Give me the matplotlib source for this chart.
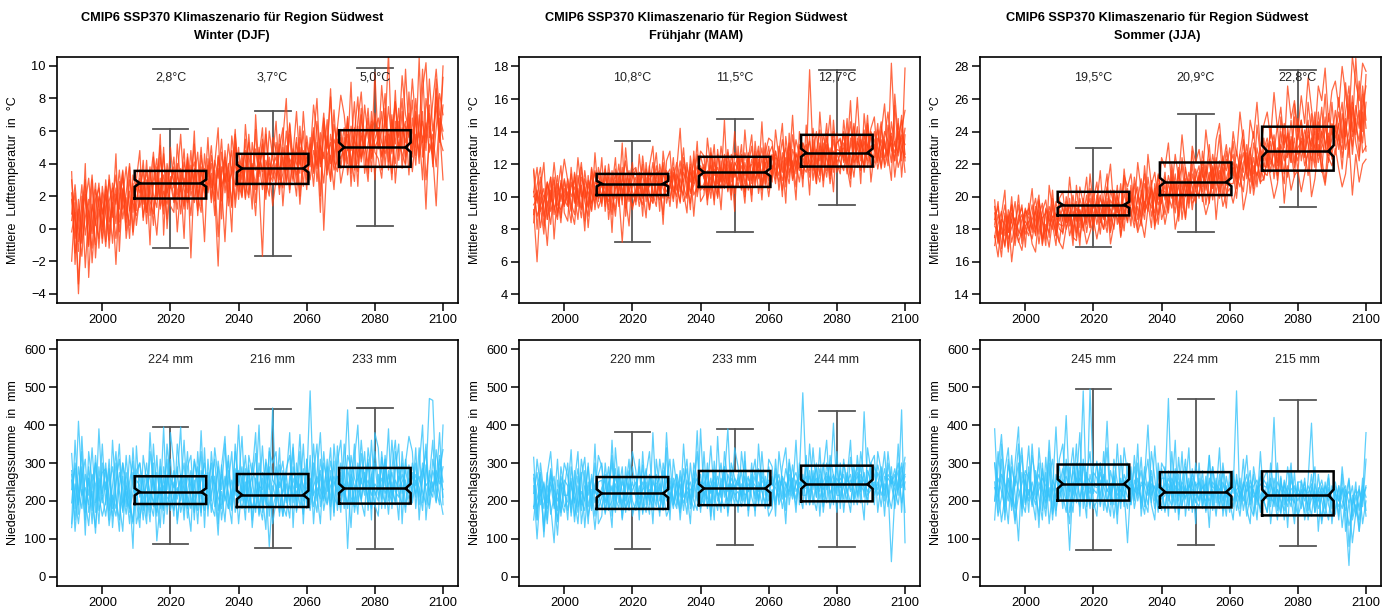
import matplotlib
matplotlib.use('Agg')
import matplotlib.pyplot as plt
import numpy as np

plt.rcParams['font.family'] = ['Liberation Sans', 'DejaVu Sans']

title = 'CMIP6 SSP370 Klimaszenario für Region Südwest'
seasons = ['Winter (DJF)', 'Frühjahr (MAM)', 'Sommer (JJA)']
start_year = 1991
box_centers = [2020, 2050, 2080]
xticks = [2000, 2020, 2040, 2060, 2080, 2100]

# model runs 1991-2100, temperature in tenths of a degree, one string per run
temp_djf = [
    "5 22 -8 14 30 3 -12 18 25 9  21 -3 28 15 36 12 19 -6 33 24  31 15 42 8 27 38 19 46 22 30  35 18 26 49 12 33 41 20 28 37  24 45 30 -5 38 29 52 34 18 41  30 55 27 40 16 46 35 62 28 39  44 21 50 36 58 31 47 15 42 53  38 60 29 49 71 36 45 24 55 48  62 33 51 78 40 57 46 29 64 50  55 72 38 61 47 85 42 58 66 33  68 50 105 44 59 76 38 62 83 70",
    "18 -15 6 27 -4 12 33 2 19 -9  14 30 7 25 -2 20 38 11 17 29  22 36 12 28 47 18 31 9 40 25  44 21 33 14 38 27 52 19 35 23  39 16 42 31 55 22 37 48 13 34  46 28 19 53 36 41 24 58 33 45  31 49 62 27 43 38 56 20 47 40  52 35 66 44 28 57 40 73 39 50  45 69 37 58 81 43 54 62 35 71  49 60 83 41 67 52 74 37 63 56  79 45 61 98 53 71 40 86 58 93",
    "-2 10 -40 8 21 -11 15 4 -6 26  9 -7 19 33 4 24 -1 30 16 8  17 29 3 35 21 13 44 27 6 32  19 31 58 24 16 39 28 11 45 30  27 40 21 -23 35 44 19 38 26 50  22 37 45 30 61 26 -17 42 34 29  40 33 25 51 37 46 28 63 35 44  30 48 39 59 -1 45 53 36 42 61  38 50 44 29 63 41 55 34 72 47  43 31 57 49 70 28 53 46 39 64  35 58 47 72 30 52 45 14 63 30",
    "30 6 -14 20 -24 11 -3 24 13 1  26 15 -9 21 12 35 8 23 -4 18  28 7 21 38 15 -4 24 33 19 50  25 40 9 31 22 48 16 36 27 -8  43 25 36 18 47 28 40 13 54 32  35 48 21 39 27 50 33 18 44 31  53 36 44 29 65 42 33 50 26 57  41 55 80 38 47 33 58 44 62 37  56 40 63 47 35 59 50 68 43 55  62 45 51 75 54 40 66 49 98 58  52 68 44 57 12 63 49 81 55 48",
    "9 27 1 -17 15 31 6 -10 20 12  -11 17 25 3 29 6 22 40 10 27  13 24 35 17 9 29 51 14 26 37  29 12 37 26 43 20 31 47 14 36  32 51 24 37 17 42 29 34 61 23  43 19 38 27 49 32 55 26 40 36  27 58 38 45 22 49 40 34 72 43  48 26 53 40 59 49 81 42 35 56  42 65 48 57 26 70 52 40 59 68  58 44 69 36 60 78 47 62 53 71  44 80 56 66 48 92 60 75 53 100",
    "22 -6 12 -9 7 18 -21 9 28 -1  30 4 13 -6 18 31 14 2 26 11  36 20 10 26 30 43 12 23 15 28  16 34 23 41 29 8 37 25 50 19  36 30 17 45 26 34 14 57 39 28  19 41 53 35 24 38 47 30 20 56  48 25 34 60 41 29 53 39 48 33  45 62 37 51 43 67 29 55 48 43  51 58 34 62 49 44 76 56 48 60  68 53 46 58 34 62 57 80 44 52  61 39 70 53 65 47 58 38 68 55",
    "35 -22 18 -5 40 -30 10 28 -12 22  -8 33 10 46 -14 25 4 38 -2 30  48 5 30 -10 44 20 58 -4 36 14  10 52 28 -6 46 24 60 8 38 22  56 18 40 62 6 48 28 -2 58 36  20 64 38 12 70 34 52 26 60 44  66 30 56 80 24 46 72 40 60 30  44 76 58 20 68 50 86 38 62 82  70 48 90 36 66 84 52 74 44 96  50 88 62 108 46 78 56 94 70 60  92 64 40 86 102 56 78 98 70 60",
    "-20 16 -34 5 26 -10 30 -18 12 -6  24 -12 16 -22 20 36 -6 12 28 2  20 42 10 26 2 34 14 50 0 28  38 -2 26 12 44 -18 34 20 10 46  22 34 8 44 26 -8 36 14 50 18  40 18 58 30 8 44 62 22 38 14  30 52 14 42 64 36 20 56 46 24  56 34 48 10 66 42 30 64 52 28  40 68 26 56 44 74 34 52 66 30  62 36 74 52 30 66 48 72 40 84  46 72 58 30 80 66 44 92 54 76",
]
temp_mam = [
    "117 96 104 88 101 112 92 99 108 95  103 91 114 98 107 85 110 102 96 118  108 99 115 93 104 120 101 111 97 106  112 100 95 117 106 121 103 98 114 109  105 118 110 96 124 113 102 116 108 119  111 125 104 117 108 131 115 106 120 112  122 109 127 116 101 124 118 130 112 121  126 113 120 135 117 108 129 122 116 133  120 178 125 112 131 119 136 124 128 115  131 124 139 117 128 143 122 134 126 137  128 141 124 135 119 146 131 127 138 132",
    "92 60 99 105 86 97 110 90 102 94  108 96 89 113 100 106 94 117 98 103  96 112 104 89 110 101 72 107 116 99  104 115 101 110 92 107 119 104 99 113  117 103 109 122 106 99 115 110 126 104  108 116 99 121 113 105 123 110 117 102  113 126 108 119 131 110 116 104 125 118  119 108 131 115 124 112 138 121 109 127  132 118 126 140 114 129 123 117 135 121  126 139 120 131 145 118 133 127 122 140  135 122 143 130 126 182 137 125 141 153",
    "100 103 81 96 108 91 99 113 87 105  95 109 101 86 112 104 93 107 115 97  113 94 108 101 92 114 105 98 111 103  97 108 113 102 119 96 110 106 89 116  110 97 114 106 101 118 109 123 100 113  120 107 112 98 126 114 109 122 104 117  106 119 113 124 108 128 102 115 121 110  125 117 109 123 130 115 122 106 128 119  115 127 121 108 133 124 112 130 119 126  121 116 130 125 112 134 128 119 145 124  140 129 118 134 125 137 122 145 130 124",
    "95 99 112 82 94 104 89 108 97 111  99 114 97 105 93 116 100 91 109 106  101 107 92 116 99 104 118 93 108 115  108 94 106 112 101 99 113 116 105 100  99 111 121 103 115 108 96 111 119 107  104 113 119 108 100 118 111 127 109 121  117 104 121 110 123 114 128 109 118 131  112 128 118 110 121 133 115 126 120 111  124 112 135 120 127 110 132 121 140 118  117 133 125 111 136 123 129 141 118 131  132 117 128 140 134 121 156 129 136 115",
    "103 88 95 101 97 83 106 95 92 100  111 100 106 94 118 99 105 113 92 110  94 117 100 107 113 96 110 122 103 112  117 105 120 97 111 114 100 109 121 107  113 106 100 117 109 121 103 107 114 125  116 101 127 113 118 109 120 103 126 114  110 123 117 104 115 121 111 124 107 126  131 120 113 127 109 124 117 135 125 114  127 134 116 129 122 138 127 108 124 133  135 121 128 146 124 129 137 115 132 127  124 136 131 120 144 128 134 118 127 142",
    "89 104 91 97 109 100 94 86 110 98  94 106 110 100 87 111 103 96 102 113  106 102 97 112 105 109 98 114 101 94  101 111 99 106 115 102 94 120 108 103  108 114 104 111 97 102 120 101 106 116  112 98 108 124 103 113 105 116 98 127  125 111 103 118 120 106 123 113 133 105  116 124 122 104 118 127 110 119 132 122  118 122 130 117 109 126 145 113 121 129  128 130 114 136 121 125 116 138 129 120  118 127 135 124 129 133 127 140 122 179",
    "116 80 105 121 86 112 74 103 119 90  85 118 96 124 104 79 113 92 127 101  124 91 112 78 117 101 133 88 109 121  95 126 104 87 119 131 98 114 83 122  128 99 117 142 103 90 125 108 134 97  101 136 118 95 129 109 147 104 121 91  131 105 141 116 97 134 112 146 108 125  109 141 123 100 137 119 150 114 131 106  144 116 131 108 152 124 139 111 147 120  114 147 128 159 119 136 108 151 130 142  149 121 139 157 126 110 163 135 147 126",
    "84 107 118 93 70 101 112 88 106 123  110 92 83 107 121 97 88 118 104 93  100 119 86 105 124 94 113 99 82 116  118 98 125 106 92 112 127 101 119 96  106 124 93 113 130 101 118 88 114 128  125 103 115 132 99 122 107 129 112 140  115 132 100 123 138 109 121 98 127 136  134 111 127 145 106 131 120 98 140 124  119 137 110 128 141 106 129 150 115 133  136 122 148 113 131 161 126 118 144 109  128 145 117 136 152 131 122 148 112 138",
    "103 118 94 77 109 97 121 100 84 110  97 84 115 100 92 108 81 104 116 99  109 97 120 103 88 112 95 130 106 92  104 113 88 121 100 96 115 91 128 110  94 115 106 97 120 111 92 128 103 117  118 95 130 107 114 92 126 116 101 119  124 113 96 127 110 120 131 106 115 100  117 128 104 122 96 139 111 127 118 133  128 101 142 123 113 133 116 126 103 139  125 140 118 106 143 121 135 127 150 118  121 133 146 118 127 139 112 131 150 122",
]
temp_jja = [
    "190 172 184 195 178 186 170 188 193 181  176 189 199 183 174 192 186 180 197 185  194 180 188 201 185 192 179 196 187 203  188 199 193 182 204 195 190 208 186 199  203 190 198 211 194 206 188 200 213 197  207 195 212 201 216 199 209 193 214 205  210 222 204 215 198 219 211 225 207 217  221 209 226 215 232 213 224 206 229 218  228 215 234 221 240 226 212 237 229 222  236 224 242 229 218 246 233 227 251 238  244 229 251 237 262 240 285 249 233 258",
    "175 189 181 169 192 184 197 176 186 191  187 180 194 177 191 198 182 188 176 193  185 197 182 191 178 199 190 183 205 188  197 184 191 206 189 180 200 193 211 190  195 208 186 200 214 193 205 199 189 210  198 213 204 190 210 219 200 215 206 196  215 206 220 209 226 213 203 221 216 230  213 228 217 235 211 226 240 219 230 222  233 220 227 244 216 238 231 221 249 226  228 241 232 222 247 235 255 230 239 226  239 252 236 270 245 231 256 242 268 247",
    "182 178 163 188 174 181 187 172 179 185  181 174 186 192 171 183 178 195 184 172  189 193 176 185 197 181 195 178 192 186  192 177 198 188 185 202 183 194 179 205  188 199 206 185 197 191 210 184 202 196  212 201 193 209 185 204 211 198 220 203  201 214 209 196 217 207 222 200 211 219  226 205 218 227 214 209 233 221 212 236  219 241 229 213 232 245 224 235 218 230  234 219 228 251 226 239 215 244 231 258  231 245 224 238 257 226 249 271 240 275",
    "186 194 177 180 189 172 183 195 171 188  193 183 177 197 185 179 194 187 190 180  178 187 195 180 190 175 188 201 181 197  183 194 186 197 178 190 187 181 196 184  207 185 194 182 208 200 193 205 183 204  203 190 216 198 207 193 218 205 199 212  219 197 212 223 205 216 199 213 228 208  208 220 211 203 225 217 205 230 219 210  224 234 211 227 221 208 243 225 236 215  241 228 213 236 230 243 224 209 237 223  226 238 217 246 229 255 233 222 252 228",
    "170 183 191 176 185 195 179 184 189 177  184 195 180 188 196 174 191 183 170 198  192 184 199 176 193 187 181 192 199 179  201 189 180 195 192 187 207 175 190 198  192 181 201 196 186 212 197 190 208 186  194 208 199 214 193 210 186 207 201 217  206 218 195 210 219 202 216 208 193 222  215 199 222 210 219 228 214 225 208 229  236 223 218 230 227 214 239 228 212 248  222 235 247 216 240 221 231 249 225 236  253 235 229 248 224 258 244 234 263 242",
    "194 176 186 183 168 190 185 179 176 193  179 186 191 171 187 190 175 199 187 183  182 190 185 196 188 170 199 187 194 183  193 201 188 178 198 193 196 186 202 193  199 194 180 204 191 197 181 208 195 201  189 200 207 195 218 186 203 210 192 208  212 203 217 199 210 224 208 218 202 214  218 213 206 221 227 202 219 213 224 215  213 228 238 219 232 222 226 247 221 237  247 226 238 231 252 225 240 234 221 244  236 244 258 229 240 262 238 253 227 231",
    "198 171 189 204 166 195 180 201 175 192  189 205 176 198 184 170 207 192 181 199  203 184 212 191 175 206 196 184 214 193  196 216 187 205 220 192 201 183 213 206  214 193 221 204 190 226 207 215 198 224  218 233 205 226 211 238 216 202 231 221  229 212 241 223 208 235 245 220 232 214  240 225 252 233 217 247 236 258 229 244  252 236 264 241 255 230 268 248 259 240  262 245 273 254 238 268 259 279 246 265  271 255 280 263 248 286 270 259 282 277",
    "176 163 184 170 188 160 179 173 167 182  185 171 166 190 174 180 169 186 178 172  168 181 190 175 173 192 183 171 178 186  174 186 180 199 171 183 196 176 192 185  201 190 178 186 175 193 204 182 189 198  183 195 207 180 191 202 187 211 196 199  213 200 189 197 218 186 209 194 202 205  196 207 219 192 203 224 201 215 209 211  224 211 199 208 228 196 219 204 213 216  203 214 228 200 211 232 217 207 224 219  230 217 206 214 235 201 226 209 220 223",
    "183 197 168 190 178 200 174 186 195 169  196 178 190 201 170 193 185 204 176 191  177 200 189 170 207 185 196 212 181 198  209 186 199 214 179 204 192 186 217 197  182 212 200 188 219 196 206 180 214 201  215 192 220 203 188 224 208 196 228 210  199 228 212 232 205 219 238 207 223 214  234 211 227 241 216 230 207 244 225 219  218 243 229 210 249 232 238 221 257 235  247 225 258 239 221 252 236 263 229 245  240 261 233 252 268 237 248 225 256 268",
]

# model runs 1991-2100, seasonal precipitation in mm
prec_djf = [
    "325 180 410 245 150 290 205 130 260 215  300 175 240 330 195 120 275 225 75 345  210 265 160 380 230 185 290 140 245 310  195 260 395 175 225 280 150 330 205 240  275 190 160 305 230 350 180 255 215 400  210 285 170 240 325 195 150 270 230 445  185 260 305 210 155 290 235 375 200 250  490 220 170 310 245 195 280 160 345 230  265 440 210 185 300 245 330 175 270 225  200 315 250 165 285 360 220 190 310 245  275 210 340 195 260 470 465 230 190 400",
    "230 285 165 370 200 135 250 300 175 215  160 240 290 205 150 265 185 320 240 195  270 175 225 145 300 95 195 395 165 260  235 290 170 215 330 190 255 140 280 220  200 250 310 175 225 145 280 205 330 240  290 180 235 265 170 300 215 125 340 255  240 170 230 285 320 195 255 220 165 310  205 270 350 185 240 290 200 305 175 260  180 285 230 350 195 260 215 300 240 185  270 205 290 230 195 330 250 300 185 260  225 300 190 255 350 215 280 240 320 210",
    "130 245 195 260 310 170 225 115 290 195  250 135 215 180 275 230 165 250 305 140  185 225 300 200 160 275 215 240 185 230  280 150 240 300 180 260 215 175 385 195  235 300 185 225 270 200 245 330 170 220  180 230 295 150 260 215 345 200 185 270  275 215 160 245 200 340 175 230 285 195  250 185 235 205 330 225 265 210 190 300  220 195 270 240 165 325 250 205 360 215  235 290 180 270 225 200 265 240 170 295  195 255 235 175 295 230 210 335 260 230",
    "280 210 140 230 190 260 175 320 215 160  200 270 180 300 225 175 240 195 145 255  240 150 270 220 200 170 260 220 310 175  215 235 200 265 155 225 305 245 170 270  180 220 265 140 295 215 180 225 260 195  235 320 210 185 215 250 190 225 290 180  220 295 190 160 265 240 200 275 240 225  175 240 265 230 205 255 185 250 220 200  290 75 255 195 280 200 265 235 180 300  215 240 310 200 250 190 290 220 255 205  240 270 210 300 225 180 250 195 285 335",
    "195 300 225 180 270 215 340 195 230 275  285 210 160 250 310 195 225 140 275 230  155 205 245 265 185 320 180 260 210 195  250 205 270 230 210 180 235 290 215 175  255 170 230 290 190 265 220 175 240 280  200 250 185 300 240 165 275 245 80 220  290 235 265 195 240 210 265 185 230 280  225 300 200 270 175 235 305 245 265 215  245 180 320 260 230 205 275 190 250 330  250 225 195 280 215 255 230 270 240 220  300 240 265 225 190 280 235 260 215 165",
    "255 150 290 215 235 190 270 245 140 300  230 285 200 160 240 300 210 180 220 265  300 240 185 210 255 200 235 175 270 215  175 225 255 190 265 240 195 225 255 300  215 265 245 210 180 240 305 190 285 205  265 195 255 220 180 240 230 300 160 240  205 250 220 270 190 260 220 245 210 235  260 215 245 280 220 190 240 265 225 275  210 250 190 230 260 285 230 255 215 245  230 260 220 245 275 225 210 250 280 235  265 220 250 285 240 255 225 280 245 290",
    "140 360 190 290 110 330 250 170 390 220  280 150 360 210 120 300 250 170 340 200  130 320 250 170 350 210 130 290 230 380  300 140 230 360 190 120 310 260 160 340  160 330 230 110 290 370 200 140 350 250  370 190 280 130 230 400 170 310 250 140  200 340 160 260 380 130 300 220 350 180  320 140 270 380 200 310 150 350 240 170  350 250 130 310 400 200 160 340 270 190  160 330 240 390 180 280 350 140 300 370  330 180 290 400 150 260 360 200 310 250",
    "270 120 230 330 170 260 140 300 200 350  190 310 130 240 350 170 320 210 140 280  300 200 140 330 250 160 310 180 350 240  160 350 260 150 290 320 170 240 330 130  310 200 340 260 150 230 320 180 270 140  240 150 320 270 380 160 260 190 330 300  330 160 280 200 250 350 170 330 140 310  190 350 220 140 300 250 340 170 300 360  200 320 290 170 230 360 250 310 150 380  340 180 320 210 360 240 150 330 230 190  210 340 150 270 330 190 310 250 380 190",
]
prec_mam = [
    "315 150 270 105 240 185 90 255 200 170  225 335 160 210 275 130 240 195 300 180  210 270 175 360 200 240 155 290 185 230  250 180 295 215 165 380 200 235 175 260  205 245 190 280 225 165 300 210 385 180  235 275 150 305 220 185 260 390 200 240  260 205 305 175 240 280 195 330 215 250  190 285 225 260 175 310 240 205 270 485  255 210 340 230 270 185 300 245 405 220  280 235 200 315 250 275 195 435 240 265  230 295 255 200 330 245 270 215 440 90",
    "220 275 190 250 150 285 215 175 265 230  175 240 205 140 260 315 185 230 160 250  255 165 230 300 210 180 265 200 245 175  190 240 210 170 270 225 185 310 240 200  260 190 225 245 175 255 215 175 240 270  190 230 345 215 175 260 225 200 280 215  225 185 240 265 210 175 250 225 195 290  240 270 190 220 285 240 205 255 220 180  300 240 265 210 285 240 195 320 265 215  215 300 250 270 205 240 290 210 260 300  270 215 240 285 220 180 255 300 235 265",
    "150 240 275 205 180 230 265 145 215 300  265 190 230 285 200 175 250 215 125 225  180 230 290 160 245 215 185 260 230 290  225 290 165 250 215 180 270 200 225 160  185 260 215 170 245 285 190 260 200 220  280 185 240 265 200 235 290 160 245 210  195 245 215 225 270 205 240 190 265 210  265 200 250 180 235 260 215 245 270 215  215 280 190 255 225 300 230 265 195 245  250 205 275 230 295 215 255 235 200 285  215 250 185 265 240 40 210 255 300 230",
    "240 100 230 180 275 165 210 110 245 185  200 260 145 240 190 280 160 205 245 270  300 195 215 240 170 270 225 180 205 250  210 175 235 285 190 250 225 170 280 230  240 205 180 265 210 230 250 200 175 390  210 250 195 235 265 210 180 245 225 260  240 275 200 245 230 265 200 255 235 180  210 245 270 205 250 215 295 225 245 260  245 190 260 285 205 250 275 220 245 260  235 270 220 255 230 190 270 250 225 245  250 230 290 215 270 255 230 190 265 315",
    "185 205 250 135 210 250 180 230 170 255  240 170 280 185 225 200 300 175 230 195  235 255 180 200 265 225 195 240 280 200  175 225 250 205 230 200 245 260 190 380  225 180 250 210 285 195 230 240 260 185  225 205 260 195 240 300 210 270 235 190  270 225 190 260 245 215 285 230 250 200  230 190 255 240 210 270 230 190 250 230  235 265 215 175 255 210 265 180 230 290  200 245 230 195 260 290 225 275 215 230  290 265 215 245 185 265 240 280 195 250",
    "270 180 215 245 195 270 230 200 250 215  215 250 195 265 175 240 215 260 195 230  220 200 250 225 285 195 250 220 175 265  265 205 230 240 200 260 215 245 210 235  215 245 270 230 195 225 205 280 230 250  245 270 220 250 215 230 265 225 260 235  250 210 265 225 255 240 225 265 240 255  245 235 210 265 240 225 255 275 235 250  265 225 245 260 240 230 255 245 270 235  260 240 265 225 245 265 240 225 280 255  240 275 250 230 260 245 285 230 255 270",
    "180 310 240 120 270 330 200 150 290 230  300 160 250 330 140 210 290 180 350 140  160 300 210 130 340 230 290 170 260 330  280 150 330 190 260 140 310 230 180 340  150 310 240 180 350 220 140 300 260 170  330 180 240 150 370 210 290 170 300 260  170 330 250 190 300 160 350 230 180 310  290 160 330 250 140 300 220 360 190 270  190 350 230 300 160 280 360 200 260 170  300 170 260 360 190 320 230 150 340 280  190 330 280 160 300 240 200 350 170 300",
    "260 150 300 220 140 280 190 310 160 240  150 290 220 170 310 250 140 270 220 320  290 170 250 320 180 290 150 230 310 160  200 310 170 270 330 190 240 160 300 250  310 190 270 150 250 310 180 230 330 210  190 300 160 280 220 170 330 250 190 340  290 200 330 160 260 310 190 280 230 160  180 310 200 290 340 190 260 170 300 220  320 190 280 210 340 170 250 300 190 330  180 310 220 170 280 210 330 260 190 300  320 170 250 330 210 290 180 240 290 170",
]
prec_jja = [
    "390 200 310 150 255 175 300 395 160 240  345 185 250 300 175 275 140 230 395 205  260 425 215 170 300 240 490 185 270 220  305 185 240 410 200 280 165 255 225 90  250 205 300 180 260 400 215 240 170 285  230 470 190 265 200 330 160 245 220 195  260 185 230 320 175 240 205 280 185 250  220 490 180 245 160 215 270 190 330 200  170 230 420 185 265 150 225 300 165 235  210 170 255 405 190 235 140 210 270 180  225 160 290 200 135 175 250 120 215 380",
    "150 290 375 240 200 320 215 95 275 230  200 350 220 160 285 210 330 180 250 290  215 170 265 340 195 280 225 155 495 250  240 300 175 255 220 190 350 205 270 240  190 255 220 315 185 235 280 200 245 175  290 200 250 190 315 210 240 175 285 225  200 255 175 245 290 195 270 220 160 275  245 200 260 175 230 280 165 240 200 255  240 185 260 205 165 255 215 185 275 160  255 215 185 235 170 270 200 160 230 205  165 240 200 175 255 160 210 185 240 210",
    "250 160 210 280 340 185 245 300 200 170  275 225 190 250 220 160 265 310 175 240  285 235 70 250 215 185 300 210 240 180  200 255 215 170 280 235 200 260 185 300  270 180 235 210 165 250 195 345 220 240  175 245 210 285 165 240 205 260 185 300  235 200 265 185 230 160 255 200 235 180  265 175 225 200 250 185 160 230 265 215  205 260 185 230 200 175 240 210 195 250  180 235 210 160 245 200 225 185 150 240  205 185 230 165 30 215 180 150 260 175",
    "300 235 145 210 260 225 180 250 320 195  230 190 280 210 150 315 200 240 205 265  180 310 240 195 235 300 200 245 220 275  260 215 270 225 245 155 240 195 245 210  220 290 200 250 235 190 265 215 190 260  260 215 185 240 230 180 290 215 250 200  185 240 215 200 250 230 185 245 210 225  200 230 240 210 190 255 225 205 180 240  235 210 195 250 230 210 185 255 225 200  230 200 240 215 195 225 255 210 235 195  240 210 180 230 195 240 160 225 185 310",
    "200 260 225 185 295 250 150 215 245 280  260 215 240 270 230 195 235 165 220 235  235 200 290 215 260 210 240 275 190 230  220 275 240 200 230 265 215 230 210 255  240 225 260 195 290 215 240 180 275 205  215 260 235 170 250 225 210 235 270 240  250 215 200 260 210 245 230 175 265 210  185 255 215 235 270 200 240 255 215 195  250 200 235 175 245 225 200 230 240 215  220 250 175 205 225 180 210 240 200 225  250 200 225 240 80 200 230 175 205 240",
    "235 210 270 245 220 200 265 230 185 255  215 250 205 230 260 240 210 255 230 200  250 265 225 280 240 260 230 265 250 240  235 245 265 230 215 250 240 225 255 230  255 230 215 240 250 225 245 235 210 230  245 225 260 235 215 250 225 240 230 215  225 235 245 215 240 220 230 250 215 240  235 220 205 250 225 240 210 225 245 230  220 245 215 230 210 240 225 200 235 220  215 230 220 245 205 215 235 220 210 230  220 200 235 210 225 190 215 230 200 235",
    "300 170 350 220 140 290 240 350 180 270  170 320 260 130 300 200 360 230 160 310  350 210 140 300 250 380 180 270 330 200  160 300 240 340 190 260 140 320 220 180  290 200 350 160 250 310 190 150 300 230  170 280 220 360 150 250 310 190 260 140  300 180 250 130 290 220 340 160 240 200  150 270 200 310 180 140 290 230 170 260  280 140 220 300 170 250 130 280 200 160  190 260 150 230 290 120 240 180 260 140  230 150 270 120 200 90 170 240 140 200",
    "200 330 250 170 310 220 140 280 340 190  290 210 150 340 240 180 300 150 270 220  230 300 170 220 350 160 310 240 180 290  300 190 330 210 160 310 250 180 340 270  190 320 230 280 200 170 330 260 180 300  280 160 330 210 270 190 230 340 170 250  200 280 170 320 190 260 180 300 220 170  280 210 160 240 320 190 230 150 280 200  170 300 220 150 260 190 290 210 140 250  250 150 200 270 170 210 150 250 190 160  180 240 130 210 260 150 190 120 230 160",
]

# box statistics, per season (DJF, MAM, JJA) and window
temp_wlo = [[-1.2, -1.7, 0.15], [7.2, 7.85, 9.5], [16.9, 17.85, 19.35]]
temp_q1 = [[1.85, 2.75, 3.8], [10.1, 10.6, 11.85], [18.85, 20.1, 21.6]]
temp_med = [[2.8, 3.7, 5.0], [10.8, 11.5, 12.7], [19.5, 20.9, 22.8]]
temp_q3 = [[3.55, 4.6, 6.05], [11.4, 12.45, 13.8], [20.3, 22.1, 24.3]]
temp_whi = [[6.15, 7.25, 9.85], [13.45, 14.8, 17.8], [23.0, 25.05, 27.8]]

prec_wlo = [[86, 76, 74], [74, 85, 78], [70, 84, 82]]
prec_q1 = [[192, 184, 193], [179, 189, 199], [201, 183, 162]]
prec_med = [[224, 216, 233], [220, 233, 244], [245, 224, 215]]
prec_q3 = [[265, 271, 287], [263, 279, 293], [296, 276, 278]]
prec_whi = [[394, 442, 446], [382, 390, 438], [494, 469, 466]]

temp_ylim = [(-4.57, 10.55), (3.47, 18.58), (13.47, 28.58)]
temp_yticks = [range(-4, 11, 2), range(4, 19, 2), range(14, 29, 2)]
prec_ylim = (-24, 624)
prec_yticks = range(0, 601, 100)

RED = '#ff4416'
BLUE = '#35c3fb'
W, H = 1396, 613


def runs(strings, scale):
    out = []
    for s in strings:
        v = np.array(s.split(), dtype=float) / scale
        out.append((np.arange(start_year, start_year + len(v)), v))
    return out


def notched_box(ax, c, wlo, q1, med, q3, whi):
    hw, ni = 10.5, 1.5
    nh = 0.13 * (q3 - q1)
    # whiskers + caps
    ax.plot([c, c], [q3, whi], color='#555555', lw=1.3, zorder=1)
    ax.plot([c, c], [wlo, q1], color='#555555', lw=1.3, zorder=1)
    ax.plot([c - hw / 2, c + hw / 2], [whi, whi], color='#555555', lw=1.3, zorder=1)
    ax.plot([c - hw / 2, c + hw / 2], [wlo, wlo], color='#555555', lw=1.3, zorder=1)
    xs = [c - hw, c - hw, c - hw + ni, c - hw, c - hw, c + hw, c + hw, c + hw - ni, c + hw, c + hw, c - hw]
    ys = [q1, med - nh, med, med + nh, q3, q3, med + nh, med, med - nh, q1, q1]
    ax.plot(xs, ys, color='black', lw=1.8, zorder=3, solid_joinstyle='miter')
    ax.plot([c - hw + ni, c + hw - ni], [med, med], color='black', lw=1.8, zorder=3)


def panel(rect, data, color, stats, ylim, yticks, ylabel, labels):
    ax = fig.add_axes(rect)
    for yrs, v in data:
        ax.plot(yrs, v, color=color, lw=0.9, alpha=0.8, zorder=2)
    wlo, q1, med, q3, whi = stats
    for k, c in enumerate(box_centers):
        notched_box(ax, c, wlo[k], q1[k], med[k], q3[k], whi[k])
        ax.text(c, 0.918, labels[k], transform=ax.get_xaxis_transform(),
                ha='center', va='center', fontsize=9, color='#222222', zorder=4)
    ax.set_xlim(1986.7, 2104.4)
    ax.set_ylim(*ylim)
    ax.set_xticks(xticks)
    ax.set_yticks(list(yticks))
    ax.tick_params(direction='out', length=6, width=1.1, labelsize=9.3, pad=2)
    for sp in ax.spines.values():
        sp.set_linewidth(1.2)
    ax.set_ylabel(ylabel, fontsize=9)
    ax.yaxis.label.set_va('center')
    ax.yaxis.set_label_coords(-44 / 401, 0.5)
    return ax


fig = plt.figure(figsize=(W / 100, H / 100), dpi=100)

lefts = [57, 519, 980]
col_centers = [232, 696, 1157]
temp_runs = [runs(temp_djf, 10), runs(temp_mam, 10), runs(temp_jja, 10)]
prec_runs = [runs(prec_djf, 1), runs(prec_mam, 1), runs(prec_jja, 1)]

for i in range(3):
    fig.text(col_centers[i] / W, 1 - 18 / H, title, ha='center', va='center',
             fontsize=9.2, fontweight='bold')
    fig.text(col_centers[i] / W, 1 - 36 / H, seasons[i], ha='center', va='center',
             fontsize=9.2, fontweight='bold')

    rect_top = [lefts[i] / W, 1 - 303 / H, 401 / W, 246 / H]
    rect_bot = [lefts[i] / W, 1 - 586 / H, 401 / W, 246 / H]

    t_stats = (temp_wlo[i], temp_q1[i], temp_med[i], temp_q3[i], temp_whi[i])
    t_labels = [f'{m:.1f}'.replace('.', ',') + '°C' for m in temp_med[i]]
    panel(rect_top, temp_runs[i], RED, t_stats, temp_ylim[i], temp_yticks[i],
          'Mittlere  Lufttemperatur  in  °C', t_labels)

    p_stats = (prec_wlo[i], prec_q1[i], prec_med[i], prec_q3[i], prec_whi[i])
    p_labels = [f'{m:.0f} mm' for m in prec_med[i]]
    panel(rect_bot, prec_runs[i], BLUE, p_stats, prec_ylim, prec_yticks,
          'Niederschlagssumme  in  mm', p_labels)

fig.savefig('out.png', dpi=100)
